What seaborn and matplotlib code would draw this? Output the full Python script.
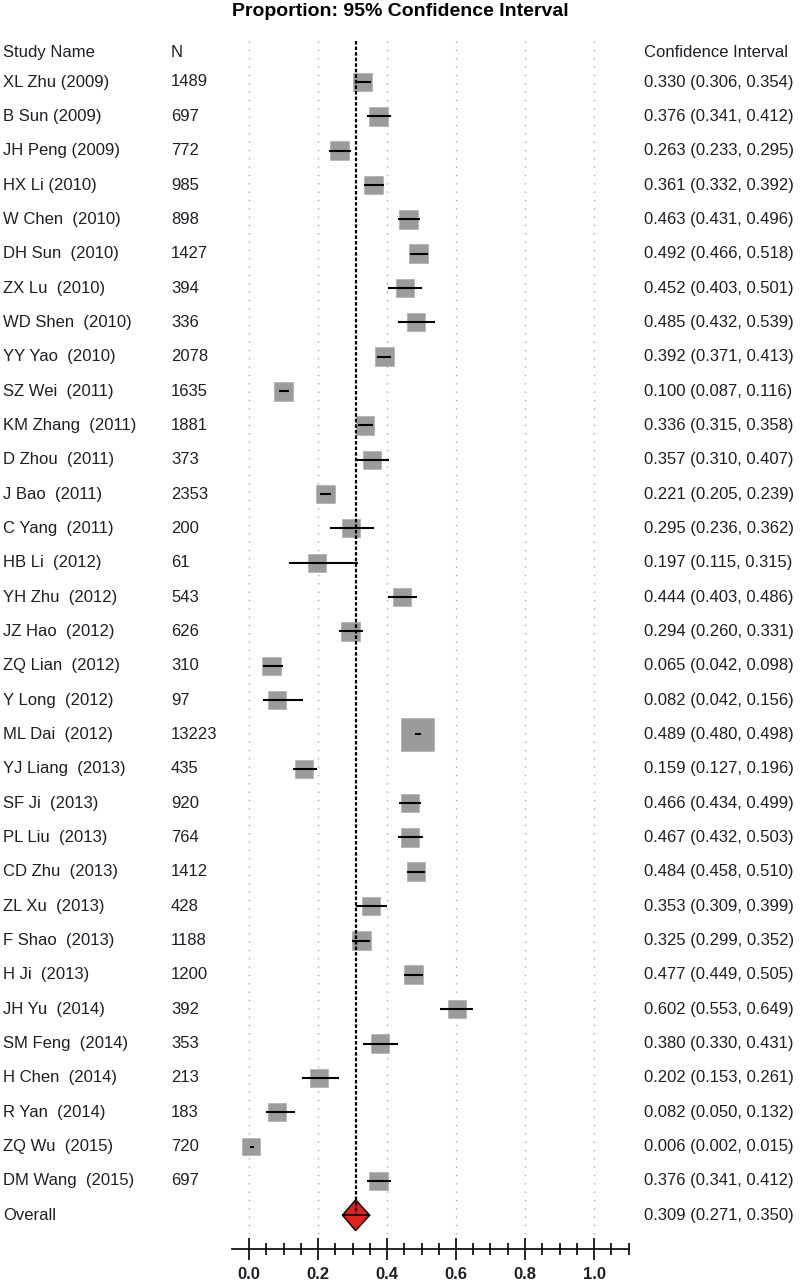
import numpy as np
import pandas as pd
import matplotlib
matplotlib.use("Agg")
import matplotlib.pyplot as plt
import seaborn as sns

# ---- data ----
studies = [
    "XL Zhu (2009)", "B Sun (2009)", "JH Peng (2009)", "HX Li (2010)",
    "W Chen  (2010)", "DH Sun  (2010)", "ZX Lu  (2010)", "WD Shen  (2010)",
    "YY Yao  (2010)", "SZ Wei  (2011)", "KM Zhang  (2011)", "D Zhou  (2011)",
    "J Bao  (2011)", "C Yang  (2011)", "HB Li  (2012)", "YH Zhu  (2012)",
    "JZ Hao  (2012)", "ZQ Lian  (2012)", "Y Long  (2012)", "ML Dai  (2012)",
    "YJ Liang  (2013)", "SF Ji  (2013)", "PL Liu  (2013)", "CD Zhu  (2013)",
    "ZL Xu  (2013)", "F Shao  (2013)", "H Ji  (2013)", "JH Yu  (2014)",
    "SM Feng  (2014)", "H Chen  (2014)", "R Yan  (2014)", "ZQ Wu  (2015)",
    "DM Wang  (2015)",
]
n_subjects = [1489, 697, 772, 985, 898, 1427, 394, 336, 2078, 1635, 1881, 373,
              2353, 200, 61, 543, 626, 310, 97, 13223, 435, 920, 764, 1412,
              428, 1188, 1200, 392, 353, 213, 183, 720, 697]
proportion = [0.330, 0.376, 0.263, 0.361, 0.463, 0.492, 0.452, 0.485, 0.392,
              0.100, 0.336, 0.357, 0.221, 0.295, 0.197, 0.444, 0.294, 0.065,
              0.082, 0.489, 0.159, 0.466, 0.467, 0.484, 0.353, 0.325, 0.477,
              0.602, 0.380, 0.202, 0.082, 0.006, 0.376]
ci_lower = [0.306, 0.341, 0.233, 0.332, 0.431, 0.466, 0.403, 0.432, 0.371,
            0.087, 0.315, 0.310, 0.205, 0.236, 0.115, 0.403, 0.260, 0.042,
            0.042, 0.480, 0.127, 0.434, 0.432, 0.458, 0.309, 0.299, 0.449,
            0.553, 0.330, 0.153, 0.050, 0.002, 0.341]
ci_upper = [0.354, 0.412, 0.295, 0.392, 0.496, 0.518, 0.501, 0.539, 0.413,
            0.116, 0.358, 0.407, 0.239, 0.362, 0.315, 0.486, 0.331, 0.098,
            0.156, 0.498, 0.196, 0.499, 0.503, 0.510, 0.399, 0.352, 0.505,
            0.649, 0.431, 0.261, 0.132, 0.015, 0.412]
# relative weight (box area)
rel_weight = [3.2, 3.1, 3.1, 3.1, 3.1, 3.2, 3.0, 3.0, 3.2, 3.3, 3.2, 3.0,
              3.2, 2.9, 2.9, 3.1, 3.1, 3.0, 3.0, 9.8, 3.0, 3.1, 3.1, 3.2,
              3.0, 3.2, 3.2, 3.0, 3.0, 2.9, 2.9, 2.8, 3.1]
overall = (0.309, 0.271, 0.350)
major_ticks = [0.0, 0.2, 0.4, 0.6, 0.8, 1.0]

df = pd.DataFrame({
    "study": studies, "n": n_subjects, "p": proportion,
    "lo": ci_lower, "hi": ci_upper, "w": rel_weight,
})
df["row"] = np.arange(len(df))
overall_row = len(df)

sns.set_theme(style="white")
plt.rcParams["font.family"] = ["Liberation Sans", "DejaVu Sans"]
txt_color = "#1e1e28"
fs = 12

fig = plt.figure(figsize=(8, 12.83), dpi=100)
ax = fig.add_axes([0, 0, 1, 1])
# x: 0.0 at 249 px, 1.0 at 594 px; y: row spacing 34.34 px, first row at 82 px
ax.set_xlim(-249 / 345, 551 / 345)
ax.set_ylim((1283 - 82) / 34.34, -82 / 34.34)

# dotted reference grid and dashed overall line
ax.vlines(major_ticks, -1.2, 33.6, colors="#a8a8a8", linestyles=(0, (1, 5)),
          linewidth=1.0, zorder=1)
ax.vlines(overall[0], -1.2, overall_row, colors="black",
          linestyles=(0, (1.6, 0.9)), linewidth=1.6, zorder=5)

# study boxes
sns.scatterplot(data=df, x="p", y="row", size="w", sizes=(0, 560),
                size_norm=(0, max(rel_weight)), marker="s", color="#9b9b9b",
                edgecolor="#b4b4b4", linewidth=0.6, legend=False, ax=ax,
                zorder=3)
ax.hlines(df["row"], df["lo"], df["hi"], colors="black", linewidth=1.5,
          zorder=4)

# overall diamond
h = 0.45
est, lo, hi = overall
ax.fill([lo, est, hi, est], [overall_row, overall_row - h, overall_row,
        overall_row + h], facecolor="#e3201c", edgecolor="black",
        linewidth=1.0, zorder=4)
ax.hlines(overall_row, lo, hi, colors="black", linewidth=1.2, zorder=6)

# text columns
x_name, x_n, x_ci = (3 - 249) / 345, (171 - 249) / 345, (644 - 249) / 345
ax.text(x_name, -0.87, "Study Name", fontsize=fs, color=txt_color, va="center")
ax.text(x_n, -0.87, "N", fontsize=fs, color=txt_color, va="center")
ax.text(x_ci, -0.87, "Confidence Interval", fontsize=fs, color=txt_color,
        va="center")
for r in df.itertuples():
    ax.text(x_name, r.row, r.study, fontsize=fs, color=txt_color, va="center")
    ax.text(x_n, r.row, str(r.n), fontsize=fs, color=txt_color, va="center")
    ax.text(x_ci, r.row, f"{r.p:.3f} ({r.lo:.3f}, {r.hi:.3f})", fontsize=fs,
            color=txt_color, va="center")
ax.text(x_name, overall_row, "Overall", fontsize=fs, color=txt_color,
        va="center")
ax.text(x_ci, overall_row, f"{est:.3f} ({lo:.3f}, {hi:.3f})", fontsize=fs,
        color=txt_color, va="center")
ax.text((400 - 249) / 345, (11 - 82) / 34.34,
        "Proportion: 95% Confidence Interval", fontsize=14,
        fontweight="bold", color="black", ha="center", va="center")

# bottom axis
for side in ["top", "left", "right"]:
    ax.spines[side].set_visible(False)
ax.spines["bottom"].set_position(("data", (1249 - 82) / 34.34))
ax.spines["bottom"].set_bounds(-0.05, 1.1)
ax.spines["bottom"].set_linewidth(1.2)
ax.spines["bottom"].set_color("black")
ax.set_yticks([])
ax.set_xticks(major_ticks)
ax.set_xticklabels([f"{t:.1f}" for t in major_ticks], fontweight="bold")
ax.set_xticks(np.round(np.arange(0.05, 1.101, 0.05), 2)[
    [i for i in range(22) if (i + 1) % 4 != 0]], minor=True)
ax.tick_params(axis="x", which="major", direction="inout", length=16.5,
               width=1.2, color="black", pad=5, labelsize=fs,
               labelcolor=txt_color, bottom=True)
ax.tick_params(axis="x", which="minor", direction="inout", length=8.6,
               width=1.2, color="black", bottom=True)
ax.set_xlabel("")
ax.set_ylabel("")
ax.grid(False)

fig.savefig("out.png", dpi=100)
